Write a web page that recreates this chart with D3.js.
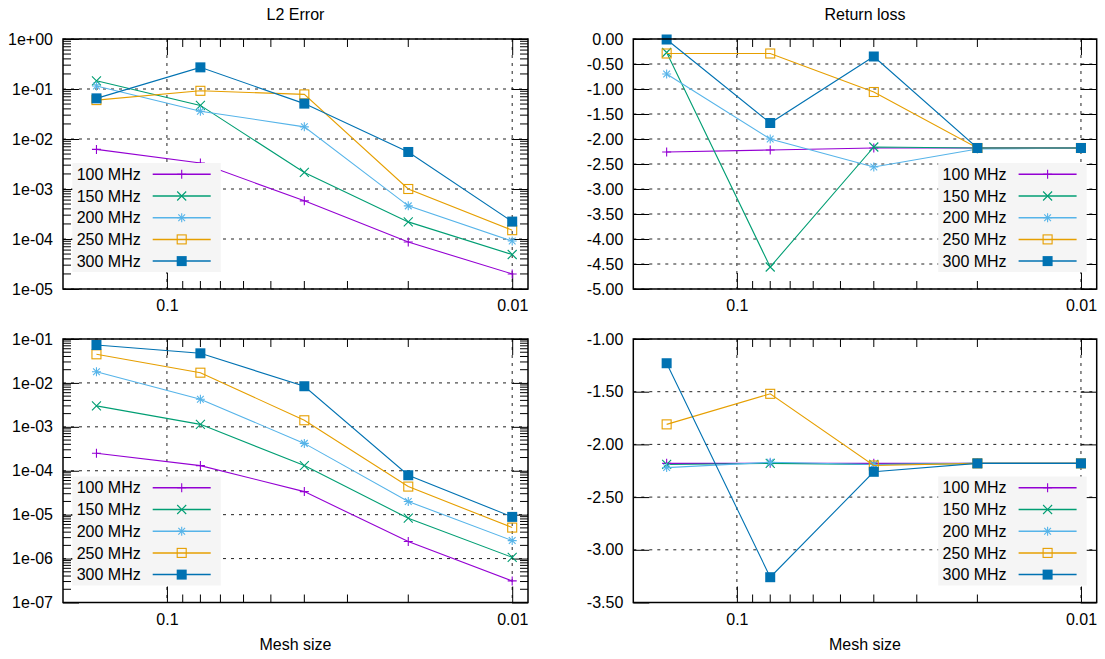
<!DOCTYPE html>
<html>
<head>
<meta charset="utf-8">
<script src="https://cdn.jsdelivr.net/npm/d3@7"></script>
<style>
  body { margin: 0; background: #fff; }
  svg { font-family: "Liberation Sans", Arial, sans-serif; }
</style>
</head>
<body>
<svg></svg>
<script>
// mesh sizes along x (log axis, reversed)
const meshSizes = [0.16, 0.08, 0.04, 0.02, 0.01];
const xTickValues = [0.1, 0.01];
const xTickLabels = ["0.1", "0.01"];
const freqLabels = ["100 MHz", "150 MHz", "200 MHz", "250 MHz", "300 MHz"];
const seriesColors = ["#9400d3", "#009e73", "#56b4e9", "#e69f00", "#0072b2"];

// top-left: L2 error, one row per frequency
const l2ErrorTop = [
    [6.2e-3, 3.3e-3, 5.8e-4, 8.7e-5, 2.0e-5],
    [0.146, 0.047, 2.14e-3, 2.2e-4, 4.9e-5],
    [0.115, 0.036, 0.0175, 4.6e-4, 9.1e-5],
    [0.060, 0.092, 0.078, 1.0e-3, 1.5e-4],
    [0.065, 0.271, 0.051, 5.5e-3, 2.23e-4]
];

// top-right: return loss
const returnLossTop = [
    [-2.26, -2.22, -2.18, -2.18, -2.18],
    [-0.27, -4.56, -2.16, -2.18, -2.18],
    [-0.70, -2.00, -2.56, -2.20, -2.18],
    [-0.29, -0.29, -1.06, -2.18, -2.18],
    [-0.01, -1.68, -0.35, -2.18, -2.18]
];

// bottom-left: L2 error
const l2ErrorBottom = [
    [2.5e-4, 1.31e-4, 3.35e-5, 2.44e-6, 3.1e-7],
    [3.0e-3, 1.14e-3, 1.31e-4, 8.3e-6, 1.07e-6],
    [0.018, 4.24e-3, 4.2e-4, 2.0e-5, 2.57e-6],
    [0.0448, 0.0171, 1.41e-3, 4.36e-5, 5.08e-6],
    [0.073, 0.0472, 8.4e-3, 7.9e-5, 8.9e-6]
];

// bottom-right: return loss
const returnLossBottom = [
    [-2.18, -2.18, -2.18, -2.18, -2.18],
    [-2.19, -2.18, -2.19, -2.18, -2.18],
    [-2.22, -2.17, -2.19, -2.18, -2.18],
    [-1.81, -1.52, -2.20, -2.18, -2.18],
    [-1.23, -3.26, -2.26, -2.18, -2.18]
];

const svg = d3.select("svg").attr("width", 1105).attr("height", 659);

const majorTick = 16;
const minorTick = 8;

const logFormat = d => {
    const e = Math.round(Math.log10(d));
    return "1e" + (e < 0 ? "-" : "+") + String(Math.abs(e)).padStart(2, "0");
};

function drawMarker(g, type, cx, cy, color) {
    const s = 4.5;
    if (type === 0 || type === 2) {
        g.append("path").attr("d", `M${cx - s},${cy}H${cx + s}M${cx},${cy - s}V${cy + s}`)
            .attr("stroke", color).attr("stroke-width", 1.1).attr("fill", "none");
    }
    if (type === 1 || type === 2) {
        const t = type === 1 ? s : s * 0.75;
        g.append("path").attr("d", `M${cx - t},${cy - t}L${cx + t},${cy + t}M${cx - t},${cy + t}L${cx + t},${cy - t}`)
            .attr("stroke", color).attr("stroke-width", 1.1).attr("fill", "none");
    }
    if (type === 3) {
        g.append("rect").attr("x", cx - s).attr("y", cy - s).attr("width", 2 * s).attr("height", 2 * s)
            .attr("fill", "none").attr("stroke", color).attr("stroke-width", 1.1);
    }
    if (type === 4) {
        g.append("rect").attr("x", cx - 5).attr("y", cy - 5).attr("width", 10).attr("height", 10)
            .attr("fill", color);
    }
}

function drawPanel(p) {
    const g = svg.append("g");
    const x = d3.scaleLog().domain([0.2, 0.009]).range([p.x0, p.x1]);
    const y = (p.log ? d3.scaleLog() : d3.scaleLinear()).domain(p.domain).range([p.y1, p.y0]);

    let yMajor, yMinor = [];
    if (p.log) {
        const lo = Math.round(Math.log10(p.domain[0])), hi = Math.round(Math.log10(p.domain[1]));
        yMajor = d3.range(lo, hi + 1).map(e => Math.pow(10, e));
        d3.range(lo, hi).forEach(e => {
            for (let m = 2; m <= 9; m++) yMinor.push(m * Math.pow(10, e));
        });
    } else {
        yMajor = d3.range(p.domain[0], p.domain[1] + 0.001, 0.5);
    }
    const xMinor = [0.09, 0.08, 0.07, 0.06, 0.05, 0.04, 0.03, 0.02];

    // grid
    const grid = g.append("g").attr("stroke", "#222").attr("stroke-width", 1).attr("stroke-dasharray", "3,5");
    yMajor.forEach(v => {
        grid.append("line").attr("x1", p.x0).attr("x2", p.x1).attr("y1", y(v)).attr("y2", y(v));
    });
    xTickValues.forEach(v => {
        grid.append("line").attr("x1", x(v)).attr("x2", x(v)).attr("y1", p.y0).attr("y2", p.y1);
    });

    // major ticks + labels through d3 axes, mirrored on top/right
    const styleAxis = a => {
        a.select(".domain").remove();
        a.attr("font-size", 16).attr("font-family", "Liberation Sans, Arial, sans-serif");
        a.selectAll("line").attr("stroke", "#000");
        a.selectAll("text").attr("fill", "#000");
    };
    g.append("g").attr("transform", `translate(0,${p.y1})`)
        .call(d3.axisBottom(x).tickValues(xTickValues).tickFormat((d, i) => xTickLabels[i]).tickSize(-majorTick).tickPadding(11))
        .call(styleAxis);
    g.append("g").attr("transform", `translate(0,${p.y0})`)
        .call(d3.axisTop(x).tickValues(xTickValues).tickFormat("").tickSize(-majorTick))
        .call(styleAxis);
    g.append("g").attr("transform", `translate(${p.x0},0)`)
        .call(d3.axisLeft(y).tickValues(yMajor).tickFormat(p.log ? logFormat : d => d.toFixed(2)).tickSize(-majorTick).tickPadding(10))
        .call(styleAxis);
    g.append("g").attr("transform", `translate(${p.x1},0)`)
        .call(d3.axisRight(y).tickValues(yMajor).tickFormat("").tickSize(-majorTick))
        .call(styleAxis);

    // minor ticks
    const minor = g.append("g").attr("stroke", "#000").attr("stroke-width", 1);
    xMinor.forEach(v => {
        minor.append("line").attr("x1", x(v)).attr("x2", x(v)).attr("y1", p.y1).attr("y2", p.y1 - minorTick);
        minor.append("line").attr("x1", x(v)).attr("x2", x(v)).attr("y1", p.y0).attr("y2", p.y0 + minorTick);
    });
    yMinor.forEach(v => {
        minor.append("line").attr("x1", p.x0).attr("x2", p.x0 + minorTick).attr("y1", y(v)).attr("y2", y(v));
        minor.append("line").attr("x1", p.x1).attr("x2", p.x1 - minorTick).attr("y1", y(v)).attr("y2", y(v));
    });

    // series
    const line = d3.line().x((d, i) => x(meshSizes[i])).y(d => y(d));
    p.data.forEach((row, k) => {
        const sg = g.append("g");
        sg.append("path").attr("d", line(row)).attr("fill", "none")
            .attr("stroke", seriesColors[k]).attr("stroke-width", 1.1);
        row.forEach((v, i) => drawMarker(sg, k, x(meshSizes[i]), y(v), seriesColors[k]));
    });

    // frame
    g.append("rect").attr("x", p.x0).attr("y", p.y0).attr("width", p.x1 - p.x0).attr("height", p.y1 - p.y0)
        .attr("fill", "none").attr("stroke", "#000").attr("stroke-width", 1.5);

    // legend
    const lw = 148.5, lh = 109;
    const lx = p.legend === "left" ? p.x0 + 9.3 : p.x1 - 10 - lw;
    const ly = p.y1 - 17 - lh;
    const legend = g.append("g").attr("transform", `translate(${lx},${ly})`);
    legend.append("rect").attr("width", lw).attr("height", lh).attr("fill", "#f5f5f5");
    freqLabels.forEach((label, k) => {
        const ry = 11.3 + k * 21.7;
        legend.append("text").attr("x", 4.4).attr("y", ry).attr("dy", "0.35em")
            .attr("font-size", 16).attr("fill", "#000").text(label);
        legend.append("line").attr("x1", 80.4).attr("x2", 138.4).attr("y1", ry).attr("y2", ry)
            .attr("stroke", seriesColors[k]).attr("stroke-width", 1.5);
        drawMarker(legend, k, 109.4, ry, seriesColors[k]);
    });

    if (p.title) {
        svg.append("text").attr("x", (p.x0 + p.x1) / 2).attr("y", 14).attr("dy", "0.35em")
            .attr("text-anchor", "middle").attr("font-size", 16).text(p.title);
    }
    if (p.xLabel) {
        svg.append("text").attr("x", (p.x0 + p.x1) / 2).attr("y", 644).attr("dy", "0.35em")
            .attr("text-anchor", "middle").attr("font-size", 16).text(p.xLabel);
    }
}

drawPanel({ x0: 63, x1: 528, y0: 39, y1: 289, log: true, domain: [1e-5, 1], data: l2ErrorTop, legend: "left", title: "L2 Error" });
drawPanel({ x0: 633.3, x1: 1096.7, y0: 39, y1: 289, log: false, domain: [-5, 0], data: returnLossTop, legend: "right", title: "Return loss" });
drawPanel({ x0: 63, x1: 528, y0: 339, y1: 602.5, log: true, domain: [1e-7, 1e-1], data: l2ErrorBottom, legend: "left", xLabel: "Mesh size" });
drawPanel({ x0: 633.3, x1: 1096.7, y0: 339, y1: 602.5, log: false, domain: [-3.5, -1], data: returnLossBottom, legend: "right", xLabel: "Mesh size" });
</script>
</body>
</html>
